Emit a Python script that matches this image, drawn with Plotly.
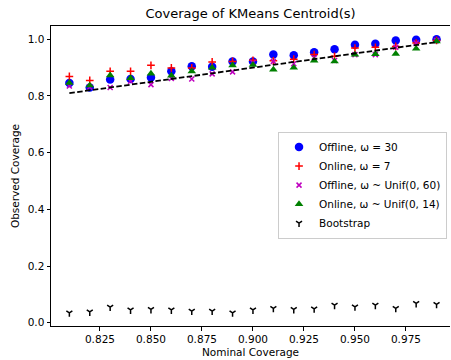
import plotly.graph_objects as go

nominal = [0.81, 0.82, 0.83, 0.84, 0.85, 0.86, 0.87, 0.88, 0.89, 0.90,
           0.91, 0.92, 0.93, 0.94, 0.95, 0.96, 0.97, 0.98, 0.99]

offline_30 = [0.846, 0.830, 0.858, 0.860, 0.865, 0.887, 0.905, 0.903, 0.922, 0.922,
              0.946, 0.944, 0.954, 0.965, 0.981, 0.984, 0.996, 0.998, 1.000]
online_7 = [0.869, 0.855, 0.887, 0.887, 0.908, 0.899, 0.899, 0.920, 0.922, 0.926,
            0.924, 0.930, 0.946, 0.940, 0.969, 0.972, 0.975, 0.987, 0.996]
offline_unif = [0.835, 0.832, 0.830, 0.852, 0.840, 0.862, 0.860, 0.878, 0.885, 0.918,
                0.922, 0.914, 0.934, 0.925, 0.946, 0.946, 0.972, 0.987, 0.996]
online_unif = [0.846, 0.837, 0.873, 0.863, 0.879, 0.872, 0.887, 0.900, 0.908, 0.910,
               0.893, 0.900, 0.925, 0.922, 0.946, 0.948, 0.949, 0.967, 0.993]
bootstrap = [0.035, 0.038, 0.055, 0.045, 0.047, 0.045, 0.041, 0.041, 0.035, 0.045,
             0.051, 0.047, 0.049, 0.062, 0.056, 0.062, 0.051, 0.068, 0.065]

x_ticks = [0.825, 0.850, 0.875, 0.900, 0.925, 0.950, 0.975]
y_ticks = [0.0, 0.2, 0.4, 0.6, 0.8, 1.0]

FONT = "DejaVu Sans"

fig = go.Figure()
fig.add_trace(go.Scatter(x=nominal, y=offline_30, mode="markers", name="Offline, ω = 30",
                         marker=dict(symbol="circle", size=8.5, color="#0000ff")))
fig.add_trace(go.Scatter(x=nominal, y=online_7, mode="markers", name="Online, ω = 7",
                         marker=dict(symbol="cross-thin", size=5.5,
                                     line=dict(color="#ff0000", width=1.5), color="#ff0000")))
fig.add_trace(go.Scatter(x=nominal, y=offline_unif, mode="markers", name="Offline, ω ~ Unif(0, 60)",
                         marker=dict(symbol="x-thin", size=5,
                                     line=dict(color="#bf00bf", width=1.5), color="#bf00bf")))
fig.add_trace(go.Scatter(x=nominal, y=online_unif, mode="markers", name="Online, ω ~ Unif(0, 14)",
                         marker=dict(symbol="triangle-up", size=7.5, color="#008000")))
fig.add_trace(go.Scatter(x=nominal, y=bootstrap, mode="markers", name="Bootstrap",
                         marker=dict(symbol="y-down", size=5,
                                     line=dict(color="#000000", width=1.5), color="#000000")))
fig.add_trace(go.Scatter(x=nominal, y=nominal, mode="lines", showlegend=False,
                         line=dict(color="#000000", width=1.8, dash="5.5px,2.4px")))

fig.update_layout(
    width=451, height=360,
    margin=dict(l=51, r=1, t=26, b=34),
    paper_bgcolor="white", plot_bgcolor="white",
    font=dict(family=FONT, size=10.5, color="#000000"),
    title=dict(text="Coverage of KMeans Centroid(s)", x=0.5, xref="paper", xanchor="center",
               y=1 - 13 / 360, yref="container", yanchor="middle",
               font=dict(size=13, family=FONT, color="#000000")),
    showlegend=True,
    legend=dict(x=0.569, y=0.648, xanchor="left", yanchor="top",
                bgcolor="rgba(255,255,255,0.8)", bordercolor="#cccccc", borderwidth=1,
                font=dict(size=10.5, family=FONT, color="#000000")),
)
fig.update_xaxes(range=[0.801, 0.99659], tickvals=x_ticks, tickformat=".3f",
                 showgrid=False, zeroline=False, showline=True, linecolor="#000000",
                 linewidth=1, mirror=True, ticks="outside", ticklen=3.5, tickwidth=1,
                 tickcolor="#000000",
                 title=dict(text="Nominal Coverage", standoff=4, font=dict(size=10.5)))
fig.update_yaxes(range=[-0.0116, 1.0469], tickvals=y_ticks, tickformat=".1f",
                 showgrid=False, zeroline=False, showline=True, linecolor="#000000",
                 linewidth=1, mirror=False, ticks="outside", ticklen=3.5, tickwidth=1,
                 tickcolor="#000000",
                 title=dict(text="Observed Coverage", standoff=6, font=dict(size=10.5)))

fig.write_html("out.html")
